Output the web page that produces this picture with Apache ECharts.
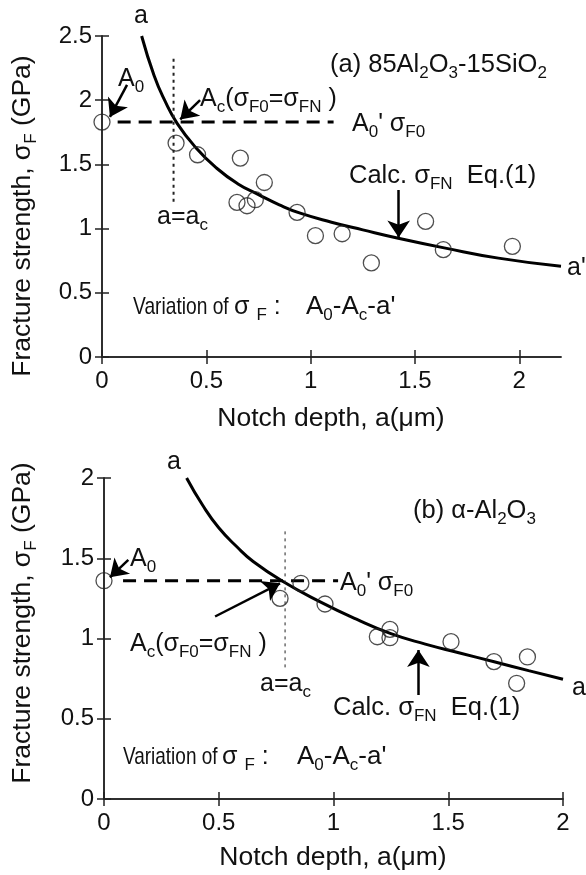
<!DOCTYPE html>
<html>
<head>
<meta charset="utf-8">
<script src="https://cdn.jsdelivr.net/npm/echarts@6/dist/echarts.min.js"></script>
<style>
  html, body { margin: 0; padding: 0; background: #fff; }
  #main { width: 586px; height: 875px; }
</style>
</head>
<body>
<div id="main"></div>
<script>
// panel (a) 85Al2O3-15SiO2 : measured points
var ptsA_x = [0, 0.355, 0.458, 0.663, 0.778, 0.647, 0.695, 0.735, 0.935, 1.023, 1.151, 1.291, 1.551, 1.636, 1.967];
var ptsA_y = [1.83, 1.666, 1.575, 1.549, 1.359, 1.204, 1.178, 1.225, 1.126, 0.945, 0.96, 0.733, 1.056, 0.836, 0.862];
// calc. sigma_FN curve
var curveA_x = [0.19, 0.25, 0.30, 0.36, 0.45, 0.55, 0.65, 0.75, 0.85, 0.95, 1.1, 1.25, 1.42, 1.64, 1.9, 2.2];
var curveA_y = [2.50, 2.19, 2.00, 1.82, 1.63, 1.47, 1.35, 1.265, 1.185, 1.12, 1.05, 0.99, 0.925, 0.85, 0.77, 0.706];
var sigmaF0_A = 1.83;     // A0 - A0'
var dashA_x = [0.075, 1.11];
var ac_A = 0.343;          // a = ac
var dotA_y = [1.21, 2.34];

// panel (b) alpha-Al2O3
var ptsB_x = [0, 0.767, 0.858, 0.963, 1.191, 1.246, 1.246, 1.512, 1.699, 1.845, 1.798];
var ptsB_y = [1.36, 1.25, 1.344, 1.215, 1.011, 1.057, 1.005, 0.98, 0.856, 0.885, 0.721];
var curveB_x = [0.36, 0.43, 0.5, 0.58, 0.65, 0.78, 0.94, 1.1, 1.25, 1.4, 1.55, 1.7, 1.85, 2.0];
var curveB_y = [2.0, 1.83, 1.69, 1.57, 1.48, 1.355, 1.23, 1.12, 1.03, 0.965, 0.91, 0.855, 0.80, 0.746];
var sigmaF0_B = 1.36;
var dashB_x = [0.083, 1.02];
var ac_B = 0.789;
var dotB_y = [0.82, 1.676];

// arrows [from, to] in data units
var arrowsA = [
    [[0.12, 2.12], [0.038, 1.87]],
    [[0.47, 2.0], [0.375, 1.85]],
    [[1.422, 1.30], [1.422, 0.93]]
];
var arrowsB = [
    [[0.106, 1.49], [0.026, 1.381]],
    [[0.484, 1.137], [0.767, 1.344]],
    [[1.37, 0.648], [1.37, 0.928]]
];

var xTicksA = [0, 0.5, 1, 1.5, 2];
var yTicksA = [0, 0.5, 1, 1.5, 2, 2.5];
var xTicksB = [0, 0.5, 1, 1.5, 2];
var yTicksB = [0, 0.5, 1, 1.5, 2];

var FF = 'Liberation Sans, Arial, sans-serif';
var INK = '#111';

function pairs(xs, ys) {
    return xs.map(function (x, i) { return [x, ys[i]]; });
}

// "A[0]" -> A with subscript 0
function rt(str) {
    var out = '';
    str.split(/(\[[^\]]*\])/).forEach(function (p) {
        if (!p) return;
        if (p[0] === '[') out += '{s|' + p.slice(1, -1) + '}';
        else out += '{m|' + p + '}';
    });
    return out;
}

function txt(x, y, s, size, rot, align) {
    size = size || 25;
    var sub = Math.round(size * 0.66);
    var lh = size + 8;
    return {
        type: 'text', x: x, y: y, rotation: rot || 0, silent: true,
        style: {
            text: rt(s),
            align: align || (rot ? 'center' : 'left'),
            verticalAlign: 'middle',
            rich: {
                m: { fontSize: size, fontFamily: FF, fill: INK, lineHeight: lh },
                s: { fontSize: sub, fontFamily: FF, fill: INK, lineHeight: sub, verticalAlign: 'bottom' }
            }
        }
    };
}

// the figure's "Variation of" is set narrower than the rest
function narrow(el, k) {
    el.scaleX = k;
    return el;
}

function xAxes(gi, max, ticks) {
    var base = {
        gridIndex: gi, type: 'value', min: 0, max: max,
        axisLine: { lineStyle: { color: '#222', width: 1.5 } },
        axisTick: { inside: true, length: 7, customValues: ticks, lineStyle: { color: '#222', width: 1.5 } },
        splitLine: { show: false }
    };
    return [
        Object.assign({}, base, {
            position: 'bottom',
            axisLabel: { customValues: ticks, color: INK, fontSize: 24, fontFamily: FF, margin: 12 }
        }),
        Object.assign({}, base, { position: 'top', axisLabel: { show: false } })
    ];
}

function yAxes(gi, max, ticks) {
    var base = {
        gridIndex: gi, type: 'value', min: 0, max: max,
        axisLine: { lineStyle: { color: '#222', width: 1.5 } },
        axisTick: { inside: true, length: 7, customValues: ticks, lineStyle: { color: '#222', width: 1.5 } },
        splitLine: { show: false }
    };
    return [
        Object.assign({}, base, {
            position: 'left',
            axisLabel: { customValues: ticks, color: INK, fontSize: 24, fontFamily: FF, margin: 10 }
        }),
        Object.assign({}, base, { position: 'right', axisLabel: { show: false } })
    ];
}

function panelSeries(ai, pts, curve, sig, dashX, ac, dotY, arrows) {
    return [
        {
            type: 'line', xAxisIndex: ai, yAxisIndex: ai, data: curve,
            smooth: 0.5, symbol: 'none',
            lineStyle: { color: '#000', width: 3 }, z: 3
        },
        {
            type: 'line', xAxisIndex: ai, yAxisIndex: ai,
            data: [[dashX[0], sig], [dashX[1], sig]],
            symbol: 'none', lineStyle: { color: '#000', width: 3, type: [13, 8] }
        },
        {
            type: 'line', xAxisIndex: ai, yAxisIndex: ai,
            data: [[ac, dotY[0]], [ac, dotY[1]]],
            symbol: 'none', lineStyle: { color: '#222', width: ai === 0 ? 2 : 1, type: [3, 4] }
        },
        {
            type: 'scatter', xAxisIndex: ai, yAxisIndex: ai, data: pts,
            symbol: 'circle', symbolSize: 16, z: 4,
            itemStyle: { color: 'rgba(255,255,255,0)', borderColor: '#222', borderWidth: 1.3 }
        },
        {
            type: 'lines', coordinateSystem: 'cartesian2d', xAxisIndex: ai, yAxisIndex: ai,
            symbol: ['none', 'arrow'], symbolSize: 17,
            lineStyle: { color: '#000', width: 2.5, opacity: 1 },
            data: arrows.map(function (c) { return { coords: c }; }), z: 5
        }
    ];
}

var chart = echarts.init(document.getElementById('main'));

var option = {
    animation: false,
    backgroundColor: '#fff',
    grid: [
        { left: 102, top: 36, width: 459, height: 321 },
        { left: 104, top: 478, width: 459, height: 321 }
    ],
    xAxis: xAxes(0, 2.2, xTicksA).concat(xAxes(1, 2, xTicksB)),
    yAxis: yAxes(0, 2.5, yTicksA).concat(yAxes(1, 2, yTicksB)),
    series: panelSeries(0, pairs(ptsA_x, ptsA_y), pairs(curveA_x, curveA_y), sigmaF0_A, dashA_x, ac_A, dotA_y, arrowsA)
        .concat(panelSeries(2, pairs(ptsB_x, ptsB_y), pairs(curveB_x, curveB_y), sigmaF0_B, dashB_x, ac_B, dotB_y, arrowsB)),
    graphic: [
        // axis titles
        txt(23, 216, 'Fracture strength, σ[F] (GPa)', 26.5, Math.PI / 2),
        txt(23, 623, 'Fracture strength, σ[F] (GPa)', 26.5, Math.PI / 2),
        txt(331, 419, 'Notch depth, a(μm)', 26.5, 0, 'center'),
        txt(333, 858, 'Notch depth, a(μm)', 26.5, 0, 'center'),
        // panel (a)
        txt(134, 16, 'a'),
        txt(118, 79, 'A[0]'),
        txt(200, 99, 'A[c](σ[F0]=σ[FN] )'),
        txt(330, 65, '(a) 85Al[2]O[3]-15SiO[2]', 25.5),
        txt(352, 124, "A[0]' σ[F0]"),
        txt(349, 176, 'Calc. σ[FN]  Eq.(1)', 25.5),
        txt(157, 217, 'a=a[c]'),
        narrow(txt(133, 307, 'Variation of', 24), 0.8),
        txt(234, 307, 'σ [F] :'),
        txt(306, 307, "A[0]-A[c]-a'", 26),
        txt(567, 268, "a'"),
        // panel (b)
        txt(167, 462, 'a'),
        txt(130, 559, 'A[0]'),
        txt(130, 644, 'A[c](σ[F0]=σ[FN] )'),
        txt(413, 511, '(b) α-Al[2]O[3]', 25.5),
        txt(340, 583, "A[0]' σ[F0]"),
        txt(260, 684, 'a=a[c]'),
        txt(333, 708, 'Calc. σ[FN]  Eq.(1)', 25.5),
        narrow(txt(123, 757, 'Variation of', 24), 0.79),
        txt(222, 757, 'σ [F] :'),
        txt(297, 757, "A[0]-A[c]-a'", 26),
        txt(572, 688, "a'")
    ]
};

chart.setOption(option);
</script>
</body>
</html>
